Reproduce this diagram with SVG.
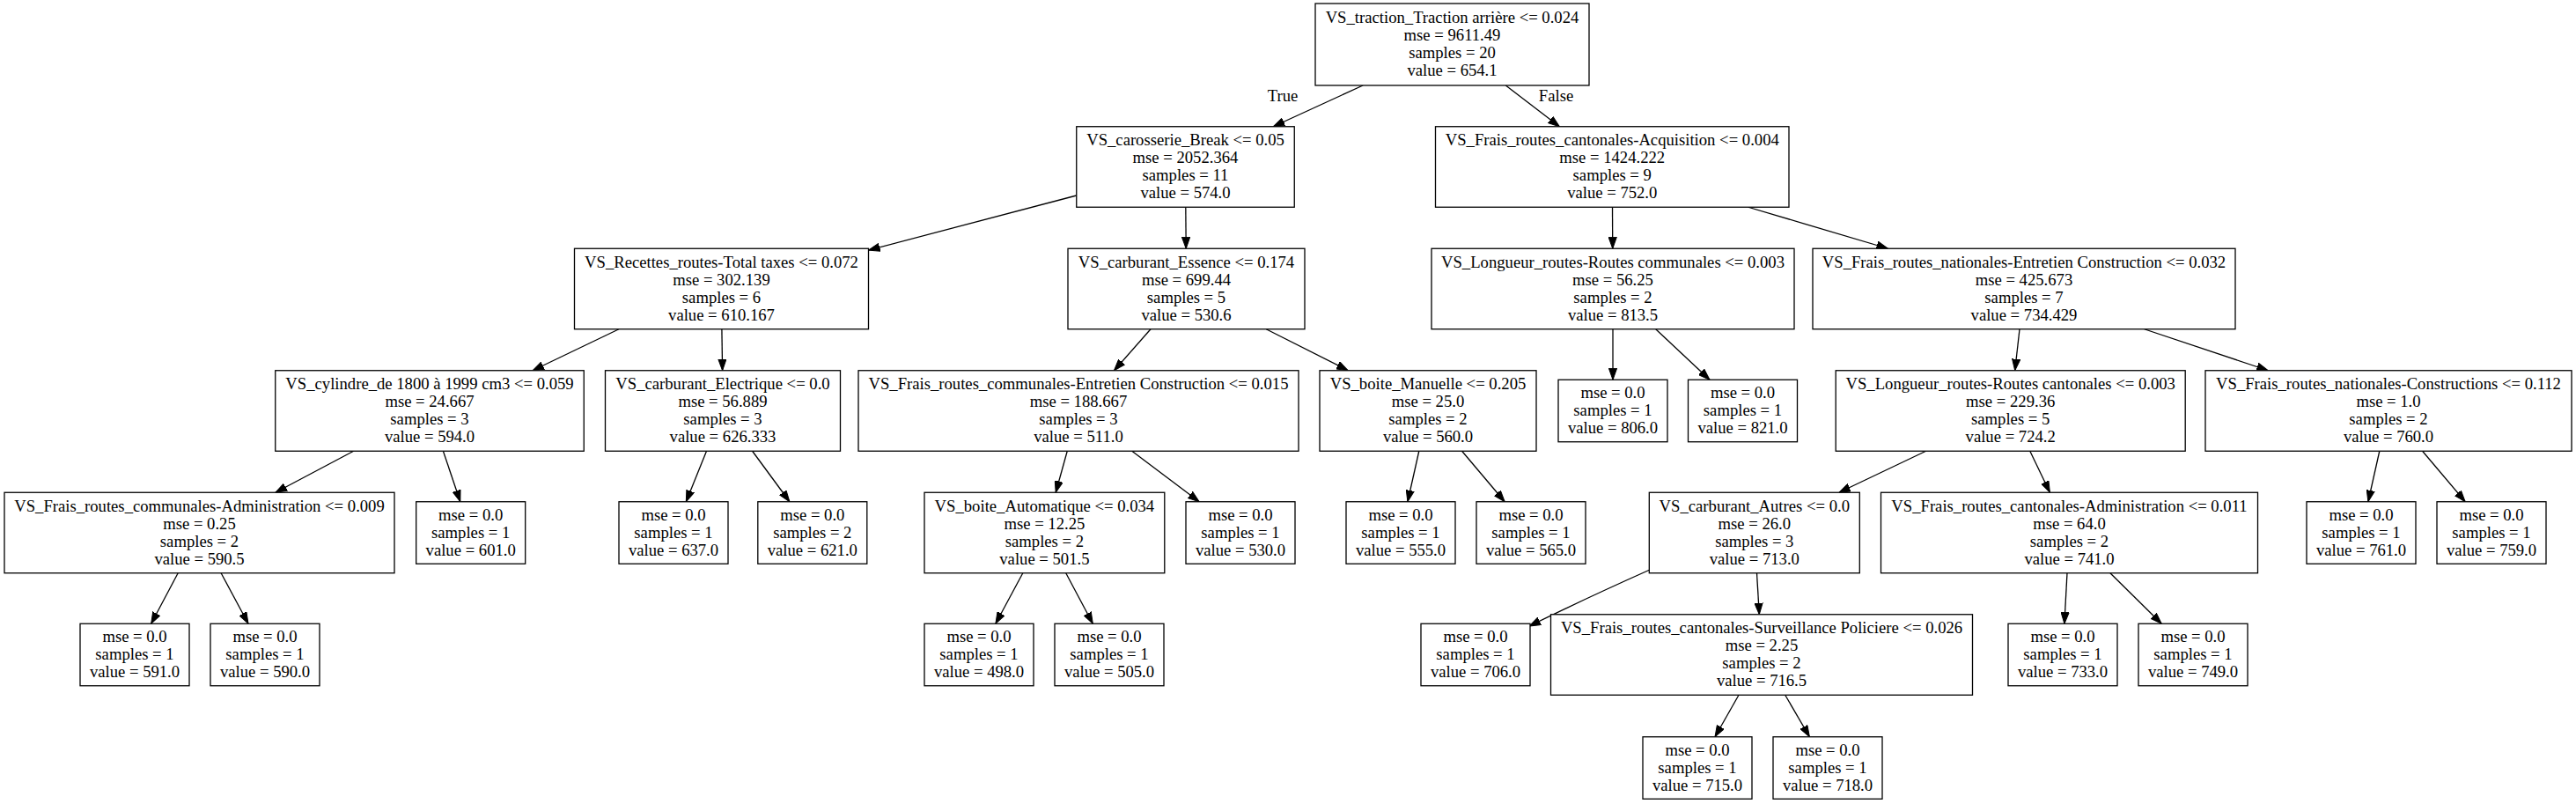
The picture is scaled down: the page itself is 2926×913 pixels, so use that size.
<svg xmlns="http://www.w3.org/2000/svg" width="2926" height="913" viewBox="0 0 2926 913">
<style>
.n{fill:#fff;stroke:#000;stroke-width:1.3}
.t{font-family:"Liberation Serif","Times New Roman",serif;font-size:18.67px;text-anchor:middle;fill:#000}
.e{fill:none;stroke:#000;stroke-width:1.3;marker-end:url(#arr)}
</style>
<defs>
<marker id="arr" viewBox="0 0 13 10" markerWidth="13" markerHeight="10" refX="13" refY="5" orient="auto" markerUnits="userSpaceOnUse">
<path d="M0,0.4 L13,5 L0,9.6 z" fill="#000" stroke="#000" stroke-width="1"/>
</marker>
</defs>
<rect x="0" y="0" width="2926" height="913" fill="#fff"/>
<g id="connectors">
<path class="e" d="M1548.1,97 L1446.2,143.75"/>
<path class="e" d="M1710.3,97 L1771.4,143.75"/>
<path class="e" d="M1222.75,222 L986.5,284.1"/>
<path class="e" d="M1346.8,235.25 L1347.2,282.25"/>
<path class="e" d="M1831.5,235.25 L1831.75,282.25"/>
<path class="e" d="M1985.8,235.25 L2144.5,282.25"/>
<path class="e" d="M703,373.75 L605,420.75"/>
<path class="e" d="M819.9,373.75 L820.6,420.75"/>
<path class="e" d="M401.6,512.25 L312.9,559.25"/>
<path class="e" d="M503.4,512.25 L522.8,569.75"/>
<path class="e" d="M802.5,512.25 L779.3,569.75"/>
<path class="e" d="M854.6,512.25 L896.9,569.75"/>
<path class="e" d="M1307,373.75 L1265.5,420.75"/>
<path class="e" d="M1438.2,373.75 L1531.3,420.75"/>
<path class="e" d="M1212.25,512.25 L1199.2,559.25"/>
<path class="e" d="M1285.8,512.25 L1362.2,569.75"/>
<path class="e" d="M1161.8,650.75 L1130.9,708.25"/>
<path class="e" d="M1210.7,650.75 L1241.3,708.25"/>
<path class="e" d="M1611.8,512.25 L1598.9,569.75"/>
<path class="e" d="M1660.6,512.25 L1709.2,569.75"/>
<path class="e" d="M1832,373.75 L1832,431.25"/>
<path class="e" d="M1880.7,373.75 L1942,431.25"/>
<path class="e" d="M2294,373.75 L2288.7,420.75"/>
<path class="e" d="M2435.7,373.75 L2576.3,420.75"/>
<path class="e" d="M2187.6,512.25 L2088.9,559.25"/>
<path class="e" d="M2305.8,512.25 L2328.4,559.25"/>
<path class="e" d="M2702.8,512.25 L2689.9,569.75"/>
<path class="e" d="M2751.6,512.25 L2800.2,569.75"/>
<path class="e" d="M202.2,650.75 L171.7,708.25"/>
<path class="e" d="M251.1,650.75 L282,708.25"/>
<path class="e" d="M1874,647 Q1800,680 1737,711"/>
<path class="e" d="M1995.5,650.75 L1998.3,697.75"/>
<path class="e" d="M1975,789.25 L1948,836.75"/>
<path class="e" d="M2027.7,789.25 L2055.4,836.75"/>
<path class="e" d="M2348,650.75 L2344.9,708.25"/>
<path class="e" d="M2396.9,650.75 L2455.2,708.25"/>
<text class="t" x="1457" y="115">True</text>
<text class="t" x="1767.5" y="115">False</text>
</g>
<g id="node0"><rect class="n" x="1494" y="4" width="311" height="93"/><text class="t"><tspan x="1649.5" y="26">VS_traction_Traction arrière &lt;= 0.024</tspan><tspan x="1649.5" y="46">mse = 9611.49</tspan><tspan x="1649.5" y="66">samples = 20</tspan><tspan x="1649.5" y="86">value = 654.1</tspan></text></g>
<g id="node1"><rect class="n" x="1222.75" y="143.75" width="247.5" height="91.5"/><text class="t"><tspan x="1346.5" y="165.1">VS_carosserie_Break &lt;= 0.05</tspan><tspan x="1346.5" y="185.1">mse = 2052.364</tspan><tspan x="1346.5" y="205.1">samples = 11</tspan><tspan x="1346.5" y="225.1">value = 574.0</tspan></text></g>
<g id="node20"><rect class="n" x="1630.5" y="143.75" width="401.5" height="91.5"/><text class="t"><tspan x="1831.25" y="165.1">VS_Frais_routes_cantonales-Acquisition &lt;= 0.004</tspan><tspan x="1831.25" y="185.1">mse = 1424.222</tspan><tspan x="1831.25" y="205.1">samples = 9</tspan><tspan x="1831.25" y="225.1">value = 752.0</tspan></text></g>
<g id="node2"><rect class="n" x="652.5" y="282.25" width="334" height="91.5"/><text class="t"><tspan x="819.5" y="303.6">VS_Recettes_routes-Total taxes &lt;= 0.072</tspan><tspan x="819.5" y="323.6">mse = 302.139</tspan><tspan x="819.5" y="343.6">samples = 6</tspan><tspan x="819.5" y="363.6">value = 610.167</tspan></text></g>
<g id="node11"><rect class="n" x="1213" y="282.25" width="269" height="91.5"/><text class="t"><tspan x="1347.5" y="303.6">VS_carburant_Essence &lt;= 0.174</tspan><tspan x="1347.5" y="323.6">mse = 699.44</tspan><tspan x="1347.5" y="343.6">samples = 5</tspan><tspan x="1347.5" y="363.6">value = 530.6</tspan></text></g>
<g id="node21"><rect class="n" x="1626" y="282.25" width="412" height="91.5"/><text class="t"><tspan x="1832" y="303.6">VS_Longueur_routes-Routes communales &lt;= 0.003</tspan><tspan x="1832" y="323.6">mse = 56.25</tspan><tspan x="1832" y="343.6">samples = 2</tspan><tspan x="1832" y="363.6">value = 813.5</tspan></text></g>
<g id="node24"><rect class="n" x="2059" y="282.25" width="480" height="91.5"/><text class="t"><tspan x="2299" y="303.6">VS_Frais_routes_nationales-Entretien Construction &lt;= 0.032</tspan><tspan x="2299" y="323.6">mse = 425.673</tspan><tspan x="2299" y="343.6">samples = 7</tspan><tspan x="2299" y="363.6">value = 734.429</tspan></text></g>
<g id="node3"><rect class="n" x="312.75" y="420.75" width="350.5" height="91.5"/><text class="t"><tspan x="488" y="442.1">VS_cylindre_de 1800 à 1999 cm3 &lt;= 0.059</tspan><tspan x="488" y="462.1">mse = 24.667</tspan><tspan x="488" y="482.1">samples = 3</tspan><tspan x="488" y="502.1">value = 594.0</tspan></text></g>
<g id="node8"><rect class="n" x="687.5" y="420.75" width="267" height="91.5"/><text class="t"><tspan x="821" y="442.1">VS_carburant_Electrique &lt;= 0.0</tspan><tspan x="821" y="462.1">mse = 56.889</tspan><tspan x="821" y="482.1">samples = 3</tspan><tspan x="821" y="502.1">value = 626.333</tspan></text></g>
<g id="node12"><rect class="n" x="975" y="420.75" width="500" height="91.5"/><text class="t"><tspan x="1225" y="442.1">VS_Frais_routes_communales-Entretien Construction &lt;= 0.015</tspan><tspan x="1225" y="462.1">mse = 188.667</tspan><tspan x="1225" y="482.1">samples = 3</tspan><tspan x="1225" y="502.1">value = 511.0</tspan></text></g>
<g id="node17"><rect class="n" x="1499" y="420.75" width="246" height="91.5"/><text class="t"><tspan x="1622" y="442.1">VS_boite_Manuelle &lt;= 0.205</tspan><tspan x="1622" y="462.1">mse = 25.0</tspan><tspan x="1622" y="482.1">samples = 2</tspan><tspan x="1622" y="502.1">value = 560.0</tspan></text></g>
<g id="node22"><rect class="n" x="1770" y="431.25" width="124" height="70.5"/><text class="t"><tspan x="1832" y="452.3">mse = 0.0</tspan><tspan x="1832" y="472.3">samples = 1</tspan><tspan x="1832" y="492.3">value = 806.0</tspan></text></g>
<g id="node23"><rect class="n" x="1917.5" y="431.25" width="124" height="70.5"/><text class="t"><tspan x="1979.5" y="452.3">mse = 0.0</tspan><tspan x="1979.5" y="472.3">samples = 1</tspan><tspan x="1979.5" y="492.3">value = 821.0</tspan></text></g>
<g id="node25"><rect class="n" x="2085.2" y="420.75" width="397" height="91.5"/><text class="t"><tspan x="2283.7" y="442.1">VS_Longueur_routes-Routes cantonales &lt;= 0.003</tspan><tspan x="2283.7" y="462.1">mse = 229.36</tspan><tspan x="2283.7" y="482.1">samples = 5</tspan><tspan x="2283.7" y="502.1">value = 724.2</tspan></text></g>
<g id="node34"><rect class="n" x="2505" y="420.75" width="416" height="91.5"/><text class="t"><tspan x="2713" y="442.1">VS_Frais_routes_nationales-Constructions &lt;= 0.112</tspan><tspan x="2713" y="462.1">mse = 1.0</tspan><tspan x="2713" y="482.1">samples = 2</tspan><tspan x="2713" y="502.1">value = 760.0</tspan></text></g>
<g id="node4"><rect class="n" x="5" y="559.25" width="443" height="91.5"/><text class="t"><tspan x="226.5" y="580.6">VS_Frais_routes_communales-Administration &lt;= 0.009</tspan><tspan x="226.5" y="600.6">mse = 0.25</tspan><tspan x="226.5" y="620.6">samples = 2</tspan><tspan x="226.5" y="640.6">value = 590.5</tspan></text></g>
<g id="node7"><rect class="n" x="472.7" y="569.75" width="124" height="70.5"/><text class="t"><tspan x="534.7" y="590.8">mse = 0.0</tspan><tspan x="534.7" y="610.8">samples = 1</tspan><tspan x="534.7" y="630.8">value = 601.0</tspan></text></g>
<g id="node9"><rect class="n" x="703" y="569.75" width="124" height="70.5"/><text class="t"><tspan x="765" y="590.8">mse = 0.0</tspan><tspan x="765" y="610.8">samples = 1</tspan><tspan x="765" y="630.8">value = 637.0</tspan></text></g>
<g id="node10"><rect class="n" x="860.8" y="569.75" width="124" height="70.5"/><text class="t"><tspan x="922.8" y="590.8">mse = 0.0</tspan><tspan x="922.8" y="610.8">samples = 2</tspan><tspan x="922.8" y="630.8">value = 621.0</tspan></text></g>
<g id="node13"><rect class="n" x="1050" y="559.25" width="272.8" height="91.5"/><text class="t"><tspan x="1186.4" y="580.6">VS_boite_Automatique &lt;= 0.034</tspan><tspan x="1186.4" y="600.6">mse = 12.25</tspan><tspan x="1186.4" y="620.6">samples = 2</tspan><tspan x="1186.4" y="640.6">value = 501.5</tspan></text></g>
<g id="node16"><rect class="n" x="1347" y="569.75" width="124" height="70.5"/><text class="t"><tspan x="1409" y="590.8">mse = 0.0</tspan><tspan x="1409" y="610.8">samples = 1</tspan><tspan x="1409" y="630.8">value = 530.0</tspan></text></g>
<g id="node18"><rect class="n" x="1529" y="569.75" width="124" height="70.5"/><text class="t"><tspan x="1591" y="590.8">mse = 0.0</tspan><tspan x="1591" y="610.8">samples = 1</tspan><tspan x="1591" y="630.8">value = 555.0</tspan></text></g>
<g id="node19"><rect class="n" x="1677" y="569.75" width="124" height="70.5"/><text class="t"><tspan x="1739" y="590.8">mse = 0.0</tspan><tspan x="1739" y="610.8">samples = 1</tspan><tspan x="1739" y="630.8">value = 565.0</tspan></text></g>
<g id="node26"><rect class="n" x="1873.3" y="559.25" width="239" height="91.5"/><text class="t"><tspan x="1992.8" y="580.6">VS_carburant_Autres &lt;= 0.0</tspan><tspan x="1992.8" y="600.6">mse = 26.0</tspan><tspan x="1992.8" y="620.6">samples = 3</tspan><tspan x="1992.8" y="640.6">value = 713.0</tspan></text></g>
<g id="node31"><rect class="n" x="2136.5" y="559.25" width="428" height="91.5"/><text class="t"><tspan x="2350.5" y="580.6">VS_Frais_routes_cantonales-Administration &lt;= 0.011</tspan><tspan x="2350.5" y="600.6">mse = 64.0</tspan><tspan x="2350.5" y="620.6">samples = 2</tspan><tspan x="2350.5" y="640.6">value = 741.0</tspan></text></g>
<g id="node35"><rect class="n" x="2620" y="569.75" width="124" height="70.5"/><text class="t"><tspan x="2682" y="590.8">mse = 0.0</tspan><tspan x="2682" y="610.8">samples = 1</tspan><tspan x="2682" y="630.8">value = 761.0</tspan></text></g>
<g id="node36"><rect class="n" x="2768" y="569.75" width="124" height="70.5"/><text class="t"><tspan x="2830" y="590.8">mse = 0.0</tspan><tspan x="2830" y="610.8">samples = 1</tspan><tspan x="2830" y="630.8">value = 759.0</tspan></text></g>
<g id="node5"><rect class="n" x="91" y="708.25" width="124" height="70.5"/><text class="t"><tspan x="153" y="729.3">mse = 0.0</tspan><tspan x="153" y="749.3">samples = 1</tspan><tspan x="153" y="769.3">value = 591.0</tspan></text></g>
<g id="node6"><rect class="n" x="239" y="708.25" width="124" height="70.5"/><text class="t"><tspan x="301" y="729.3">mse = 0.0</tspan><tspan x="301" y="749.3">samples = 1</tspan><tspan x="301" y="769.3">value = 590.0</tspan></text></g>
<g id="node14"><rect class="n" x="1050" y="708.25" width="124" height="70.5"/><text class="t"><tspan x="1112" y="729.3">mse = 0.0</tspan><tspan x="1112" y="749.3">samples = 1</tspan><tspan x="1112" y="769.3">value = 498.0</tspan></text></g>
<g id="node15"><rect class="n" x="1198" y="708.25" width="124" height="70.5"/><text class="t"><tspan x="1260" y="729.3">mse = 0.0</tspan><tspan x="1260" y="749.3">samples = 1</tspan><tspan x="1260" y="769.3">value = 505.0</tspan></text></g>
<g id="node27"><rect class="n" x="1614" y="708.25" width="124" height="70.5"/><text class="t"><tspan x="1676" y="729.3">mse = 0.0</tspan><tspan x="1676" y="749.3">samples = 1</tspan><tspan x="1676" y="769.3">value = 706.0</tspan></text></g>
<g id="node28"><rect class="n" x="1761.5" y="697.75" width="479" height="91.5"/><text class="t"><tspan x="2001" y="719.1">VS_Frais_routes_cantonales-Surveillance Policiere &lt;= 0.026</tspan><tspan x="2001" y="739.1">mse = 2.25</tspan><tspan x="2001" y="759.1">samples = 2</tspan><tspan x="2001" y="779.1">value = 716.5</tspan></text></g>
<g id="node32"><rect class="n" x="2281" y="708.25" width="124" height="70.5"/><text class="t"><tspan x="2343" y="729.3">mse = 0.0</tspan><tspan x="2343" y="749.3">samples = 1</tspan><tspan x="2343" y="769.3">value = 733.0</tspan></text></g>
<g id="node33"><rect class="n" x="2429" y="708.25" width="124" height="70.5"/><text class="t"><tspan x="2491" y="729.3">mse = 0.0</tspan><tspan x="2491" y="749.3">samples = 1</tspan><tspan x="2491" y="769.3">value = 749.0</tspan></text></g>
<g id="node29"><rect class="n" x="1866" y="836.75" width="124" height="70.5"/><text class="t"><tspan x="1928" y="857.8">mse = 0.0</tspan><tspan x="1928" y="877.8">samples = 1</tspan><tspan x="1928" y="897.8">value = 715.0</tspan></text></g>
<g id="node30"><rect class="n" x="2014" y="836.75" width="124" height="70.5"/><text class="t"><tspan x="2076" y="857.8">mse = 0.0</tspan><tspan x="2076" y="877.8">samples = 1</tspan><tspan x="2076" y="897.8">value = 718.0</tspan></text></g>
</svg>
